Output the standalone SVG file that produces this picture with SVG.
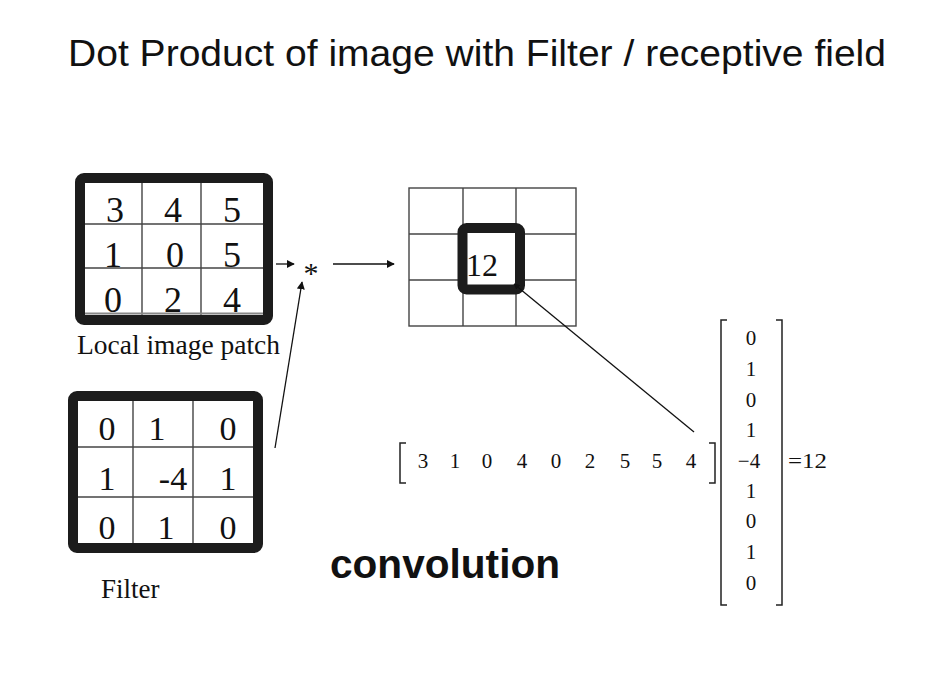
<svg xmlns="http://www.w3.org/2000/svg" width="942" height="674" viewBox="0 0 942 674">
<style>
.serif{font-family:"Liberation Serif","Times New Roman",serif;fill:#111}
.sans{font-family:"Liberation Sans",Arial,sans-serif;fill:#111}
.frame{fill:none;stroke:#1c1c1c;stroke-width:10;stroke-linejoin:round}
.grid{stroke:#444;stroke-width:1.4;fill:none}
.big{font-size:36px;text-anchor:middle}
.mid{font-size:34px;text-anchor:middle}
.vec{font-size:21px;text-anchor:middle}
.con{stroke:#111;stroke-width:1.3;fill:none}
.br{stroke:#222;stroke-width:1.5;fill:none}
</style>
<defs>
<marker id="ah" viewBox="0 0 10 10" refX="9" refY="5" markerWidth="8" markerHeight="8" markerUnits="userSpaceOnUse" orient="auto">
<path d="M0,0 L10,5 L0,10 z" fill="#111"/>
</marker>
<marker id="ahs" viewBox="0 0 10 10" refX="9" refY="5" markerWidth="6" markerHeight="6" markerUnits="userSpaceOnUse" orient="auto-start-reverse">
<path d="M0,0 L10,5 L0,10 z" fill="#111"/>
</marker>
</defs>
<rect width="942" height="674" fill="#fff"/>
<text id="title" class="sans" x="68" y="66" font-size="37" textLength="818" lengthAdjust="spacingAndGlyphs">Dot Product of image with Filter / receptive field</text>

<g id="patch">
<rect x="80" y="178" width="188" height="142" fill="#fff"/>
<line class="grid" x1="142" y1="178" x2="142" y2="315"/>
<line class="grid" x1="201" y1="178" x2="201" y2="315"/>
<line class="grid" x1="80" y1="224" x2="268" y2="224"/>
<line class="grid" x1="80" y1="268" x2="268" y2="268"/>
<line x1="85" y1="313.5" x2="263" y2="313.5" stroke="#888" stroke-width="2"/>
<rect class="frame" x="80" y="178" width="188" height="142" rx="4"/>
<text class="serif big" x="115" y="222">3</text>
<text class="serif big" x="173" y="222">4</text>
<text class="serif big" x="232" y="222">5</text>
<text class="serif big" x="113" y="267">1</text>
<text class="serif big" x="175" y="267">0</text>
<text class="serif big" x="232" y="267">5</text>
<text class="serif big" x="113" y="312">0</text>
<text class="serif big" x="173" y="312">2</text>
<text class="serif big" x="232" y="312">4</text>
<text class="serif" x="77" y="354" font-size="27" textLength="203" lengthAdjust="spacingAndGlyphs">Local image patch</text>
</g>

<g id="filter">
<rect x="73" y="396" width="185" height="152" fill="#fff"/>
<line class="grid" x1="133" y1="396" x2="133" y2="548"/>
<line class="grid" x1="193" y1="396" x2="193" y2="548"/>
<line class="grid" x1="73" y1="447" x2="258" y2="447"/>
<line class="grid" x1="73" y1="497" x2="258" y2="497"/>
<rect class="frame" x="73" y="396" width="185" height="152" rx="4"/>
<text class="serif mid" x="107" y="440">0</text>
<text class="serif mid" x="157" y="440">1</text>
<text class="serif mid" x="228" y="440">0</text>
<text class="serif mid" x="107" y="490">1</text>
<text class="serif mid" x="173" y="490">-4</text>
<text class="serif mid" x="228" y="490">1</text>
<text class="serif mid" x="107" y="539">0</text>
<text class="serif mid" x="166" y="539">1</text>
<text class="serif mid" x="228" y="539">0</text>
<text class="serif" x="101" y="598" font-size="27">Filter</text>
</g>

<g id="op">
<text class="serif" x="311" y="283" font-size="30" text-anchor="middle">*</text>
</g>

<g id="output">
<rect class="grid" x="409" y="188" width="167" height="138" stroke="#555" stroke-width="1.2"/>
<line class="grid" x1="463" y1="188" x2="463" y2="326" stroke="#555" stroke-width="1.2"/>
<line class="grid" x1="516" y1="188" x2="516" y2="326" stroke="#555" stroke-width="1.2"/>
<line class="grid" x1="409" y1="234" x2="576" y2="234" stroke="#555" stroke-width="1.2"/>
<line class="grid" x1="409" y1="280" x2="576" y2="280" stroke="#555" stroke-width="1.2"/>
<rect x="467" y="233" width="48" height="52" fill="#fff"/>
<rect class="frame" x="462.5" y="228" width="57.5" height="61.5" rx="4"/>
<text class="serif" x="466" y="276" font-size="32">12</text>
</g>

<g id="rowvec">
<path class="br" d="M406,443 H400 V483 H406"/>
<path class="br" d="M709,443 H715 V483 H709"/>
<text class="serif vec" x="423" y="468">3</text>
<text class="serif vec" x="455" y="468">1</text>
<text class="serif vec" x="487" y="468">0</text>
<text class="serif vec" x="522" y="468">4</text>
<text class="serif vec" x="556" y="468">0</text>
<text class="serif vec" x="590" y="468">2</text>
<text class="serif vec" x="625" y="468">5</text>
<text class="serif vec" x="657" y="468">5</text>
<text class="serif vec" x="691" y="468">4</text>
</g>

<g id="colvec">
<path class="br" d="M727,320 H721 V605 H727"/>
<path class="br" d="M776,320 H782 V605 H776"/>
<text class="serif vec" x="751" y="345">0</text>
<text class="serif vec" x="751" y="376">1</text>
<text class="serif vec" x="751" y="407">0</text>
<text class="serif vec" x="751" y="437">1</text>
<text class="serif vec" x="749" y="468">−4</text>
<text class="serif vec" x="751" y="498">1</text>
<text class="serif vec" x="751" y="528">0</text>
<text class="serif vec" x="751" y="559">1</text>
<text class="serif vec" x="751" y="590">0</text>
<text class="serif" x="788" y="468" font-size="22" textLength="39" lengthAdjust="spacingAndGlyphs">=12</text>
</g>

<text id="convolution" class="sans" x="330" y="578" font-size="40" font-weight="bold" textLength="230" lengthAdjust="spacingAndGlyphs">convolution</text>

<g id="connectors">
<line class="con" x1="276" y1="264" x2="294" y2="264" marker-end="url(#ah)"/>
<line class="con" x1="333" y1="264" x2="394" y2="264" marker-end="url(#ah)"/>
<line class="con" x1="275" y1="448" x2="302" y2="282" marker-end="url(#ah)"/>
<line class="con" x1="694" y1="432" x2="514" y2="284" stroke-width="1.5" marker-end="url(#ahs)"/>
</g>
</svg>
